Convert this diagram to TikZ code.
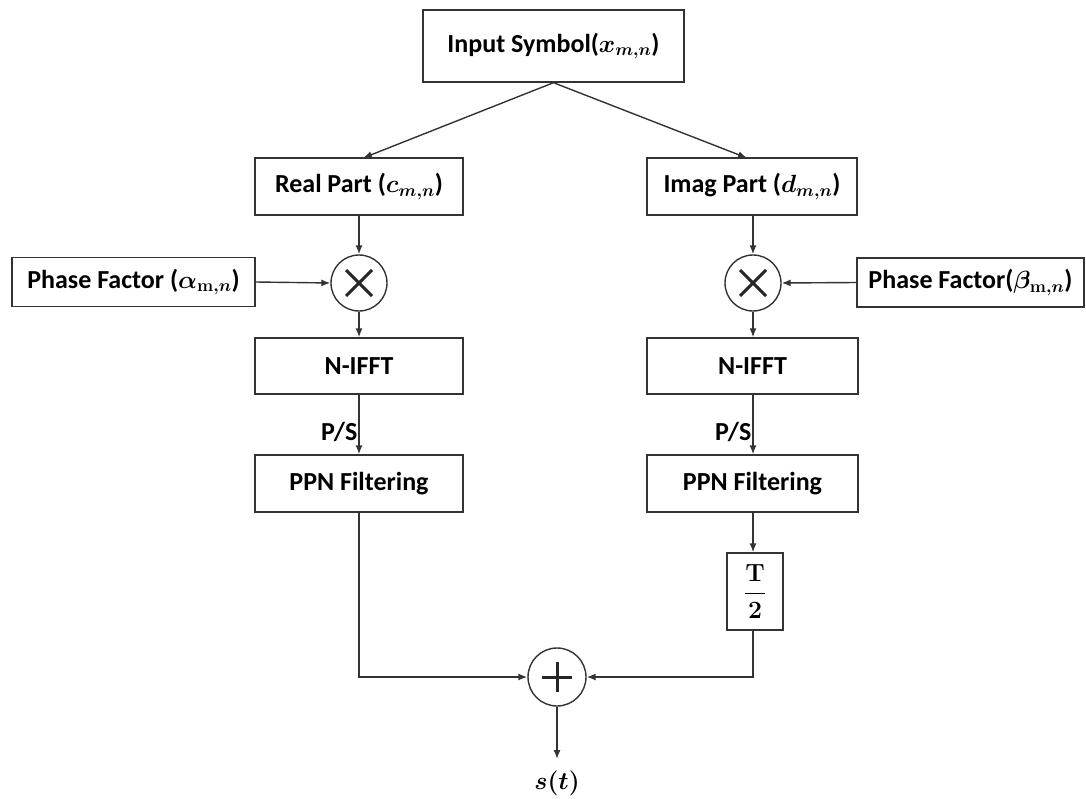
\documentclass[tikz,border=0pt]{standalone}
\usepackage{amsmath}
\usepackage[no-math]{fontspec}
\setmainfont{Carlito}
\usetikzlibrary{arrows.meta,calc}
\tikzset{
  blk/.style={draw=black!80, line width=1.4pt, fill=white, inner sep=0pt, align=center,
    font=\fontsize{26}{30}\selectfont\bfseries\boldmath},
  opc/.style={draw=black!80, line width=1.4pt, circle, minimum size=56pt, inner sep=0pt},
  conn/.style={draw=black!80, line width=1.4pt, -{Latex[length=9pt,width=7pt]}},
  sym/.style={line width=3pt, black!85},
  lbl/.style={font=\fontsize{26}{30}\selectfont\bfseries\boldmath, inner sep=1pt}
}
\begin{document}
\begin{tikzpicture}[x=1pt,y=-1pt]
\useasboundingbox (0,0) rectangle (1086,799);
% boxes
\node[blk, minimum width=261pt, minimum height=72pt] (in) at (553.5,46) {Input Symbol($x_{m,n}$)};
\node[blk, minimum width=208pt, minimum height=57pt] (rp) at (359,186.5) {Real Part ($c_{m,n}$)};
\node[blk, minimum width=210pt, minimum height=57pt] (ip) at (752,186.5) {Imag Part ($d_{m,n}$)};
\node[blk, minimum width=243pt, minimum height=49pt] (pa) at (133.5,282) {Phase Factor ($\alpha_{\mathbf{m},n}$)};
\node[blk, minimum width=227pt, minimum height=49pt] (pb) at (970.5,282.5) {Phase Factor($\beta_{\mathbf{m},n}$)};
\node[opc] (ml) at (359,283) {};
\node[opc] (mr) at (753,283) {};
\draw[sym] ($(ml)+(-13,-13)$) -- ($(ml)+(13,13)$) ($(ml)+(-13,13)$) -- ($(ml)+(13,-13)$);
\draw[sym] ($(mr)+(-13,-13)$) -- ($(mr)+(13,13)$) ($(mr)+(-13,13)$) -- ($(mr)+(13,-13)$);
\node[blk, minimum width=208pt, minimum height=56pt] (nl) at (359,366) {N-IFFT};
\node[blk, minimum width=211pt, minimum height=56pt] (nr) at (752.5,366) {N-IFFT};
\node[blk, minimum width=208pt, minimum height=57pt] (fl) at (359,483.5) {PPN Filtering};
\node[blk, minimum width=211pt, minimum height=57pt] (fr) at (752.5,483.5) {PPN Filtering};
\node[blk, minimum width=56pt, minimum height=77pt] (td) at (755,591.5) {$\dfrac{\mathbf{T}}{\mathbf{2}}$};
\node[opc, minimum size=58pt] (pl) at (557,677) {};
\draw[sym] ($(pl)+(-15,0)$) -- ($(pl)+(15,0)$) ($(pl)+(0,-15)$) -- ($(pl)+(0,15)$);
\coordinate (out) at (557,759);
\node[lbl] (st) at (557,783) {$s(t)$};
% connectors
\draw[conn] (in.south) -- (363,158);
\draw[conn] (in.south) -- (747,158);
\draw[conn] (rp.south) -- (ml.north);
\draw[conn] (ip.south -| mr) -- (mr.north);
\draw[conn] (pa.east) -- (ml.west);
\draw[conn] (pb.west) -- (mr.east);
\draw[conn] (ml.south) -- (nl.north);
\draw[conn] (mr.south) -- (mr |- nr.north);
\draw[conn] (nl.south) -- node[lbl, anchor=east, pos=0.62] (psl) {P/S} (fl.north);
\draw[conn] (mr |- nr.south) -- node[lbl, anchor=east, pos=0.62] (psr) {P/S} (mr |- fr.north);
\draw[conn] (mr |- fr.south) -- (td.north -| mr);
\draw[conn] (fl.south) |- (pl.west);
\draw[conn] (td.south -| mr) |- (pl.east);
\draw[conn] (pl.south) -- (out);
\end{tikzpicture}
\end{document}
